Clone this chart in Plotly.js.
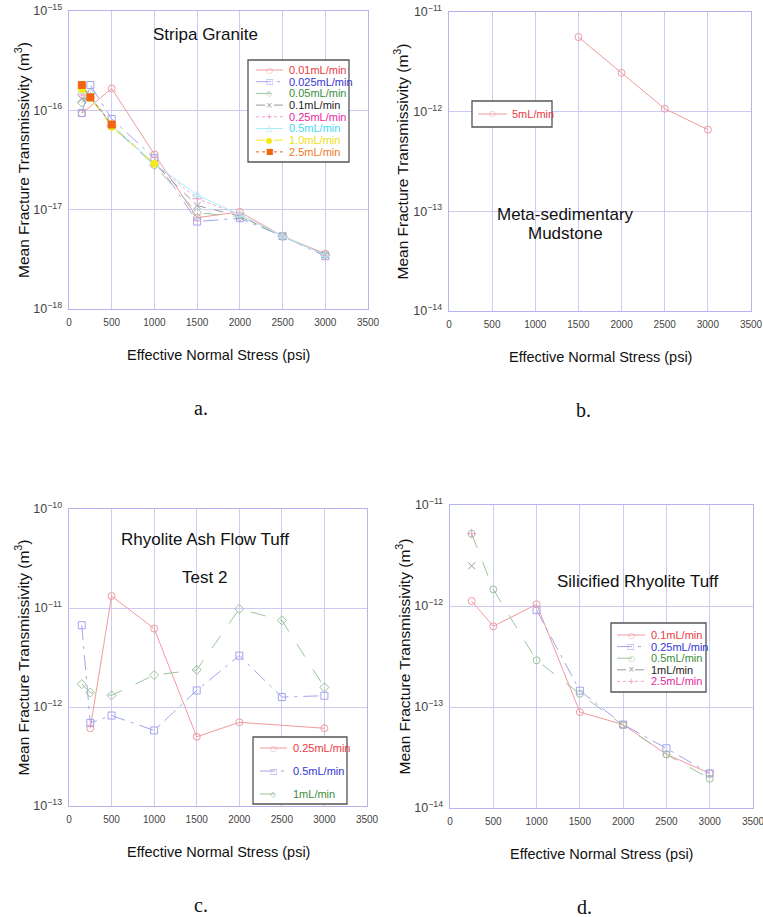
<!DOCTYPE html>
<html>
<head>
<meta charset="utf-8">
<script src="https://cdn.plot.ly/plotly-3.0.1.min.js"></script>
<style>
  html, body { margin: 0; padding: 0; background: #fff; }
  #chart { width: 763px; height: 917px; }
</style>
</head>
<body>
<div id="chart"></div>
<script>
// ---- Data: mean fracture transmissivity (m^3) vs effective normal stress (psi) ----

// a. Stripa Granite
const stressGranite = [150, 250, 500, 1000, 1500, 2000, 2500, 3000];
const granite001  = [9.3e-17, null,    1.66e-16, 3.6e-17, 8.3e-18,  9.5e-18, 5.4e-18, 3.6e-18];
const granite0025 = [9.4e-17, 1.8e-16, 8.2e-17,  3.3e-17, 7.6e-18,  8.2e-18, 5.4e-18, 3.4e-18];
const granite005  = [1.2e-16, 1.48e-16, 6.9e-17, 2.8e-17, 9.3e-18,  8.5e-18, 5.4e-18, 3.5e-18];
const granite01   = [1.3e-16, 1.38e-16, 7.0e-17, 2.9e-17, 1.1e-17,  8.6e-18, 5.4e-18, 3.5e-18];
const granite025  = [1.43e-16, 1.36e-16, 7.1e-17, 2.9e-17, 1.29e-17, 8.9e-18, 5.4e-18, 3.5e-18];
const granite05   = [1.55e-16, 1.4e-16, 7.1e-17, 2.9e-17, 1.4e-17,  8.9e-18, 5.4e-18, 3.5e-18];
const granite10   = [1.63e-16, 1.33e-16, 6.8e-17, 2.9e-17, null, null, null, null];
const granite25   = [1.8e-16, 1.35e-16, 7.2e-17, null, null, null, null, null];
const graniteNames = ['0.01mL/min', '0.025mL/min', '0.05mL/min', '0.1mL/min',
                      '0.25mL/min', '0.5mL/min', '1.0mL/min', '2.5mL/min'];

// b. Meta-sedimentary Mudstone
const stressMudstone = [1500, 2000, 2500, 3000];
const mudstone5 = [5.6e-12, 2.45e-12, 1.07e-12, 6.6e-13];
const mudstoneNames = ['5mL/min'];

// c. Rhyolite Ash Flow Tuff, Test 2
const stressAshTuff = [150, 250, 500, 1000, 1500, 2000, 2500, 3000];
const ashTuff025 = [null,    6.1e-13, 1.32e-11, 6.2e-12, 5.0e-13,  7.0e-13, null,    6.1e-13];
const ashTuff05  = [6.7e-12, 6.9e-13, 8.2e-13,  5.8e-13, 1.47e-12, 3.3e-12, 1.26e-12, 1.3e-12];
const ashTuff1   = [1.7e-12, 1.4e-12, 1.31e-12, 2.1e-12, 2.37e-12, 9.8e-12, 7.5e-12, 1.58e-12];
const ashTuffNames = ['0.25mL/min', '0.5mL/min', '1mL/min'];

// d. Silicified Rhyolite Tuff
const stressSilTuff = [250, 500, 1000, 1500, 2000, 2500, 3000];
const silTuff01  = [1.12e-12, 6.3e-13, 1.04e-12, 8.9e-14,  6.7e-14, 3.4e-14, 2.2e-14];
const silTuff025 = [null,     null,    9.1e-13,  1.45e-13, 6.7e-14, 3.9e-14, 2.2e-14];
const silTuff05  = [5.2e-12,  1.46e-12, 2.9e-13, 1.35e-13, 6.6e-14, 3.4e-14, 1.95e-14];
const silTuff1   = [2.5e-12,  null, null, null, null, null, null];
const silTuff25  = [5.2e-12,  null, null, null, null, null, null];
const silTuffNames = ['0.1mL/min', '0.25mL/min', '0.5mL/min', '1mL/min', '2.5mL/min'];

const stressTicks = [0, 500, 1000, 1500, 2000, 2500, 3000, 3500];

// ---- Styles ----
const W = 763, H = 917;
const FONT = 'Liberation Sans, Arial, sans-serif';
const SERIF = 'Liberation Serif, Times New Roman, serif';
const px = v => v / W;
const py = v => 1 - v / H;

// mark colour (thin lines/markers), legend text colour, symbol, glyph, dash
const STY = {
  red:     { mark: '#f29a9e', text: '#ea3a44', sym: 'circle-open',   glyph: '○', dash: 'solid' },
  blue:    { mark: '#a4a4ee', text: '#3434d6', sym: 'square-open',   glyph: '□', dash: 'longdashdot' },
  green:   { mark: '#9cc49c', text: '#3c8c3c', sym: 'diamond-open',  glyph: '◇', dash: 'longdash' },
  greenC:  { mark: '#9cc49c', text: '#3c8c3c', sym: 'circle-open',   glyph: '○', dash: 'longdash' },
  black:   { mark: '#9a9a9a', text: '#222222', sym: 'x-thin-open',   glyph: '×', dash: 'dash' },
  magenta: { mark: '#f2a2cc', text: '#e8289a', sym: 'cross-thin-open', glyph: '+', dash: 'dot' },
  cyan:    { mark: '#a8eef8', text: '#46d8f2', sym: 'triangle-up-open', glyph: '△', dash: 'solid' },
  yellow:  { mark: '#f4ea1a', text: '#eee010', sym: 'circle',        glyph: '●', dash: 'dash' },
  orange:  { mark: '#f06414', text: '#f07828', sym: 'square',        glyph: '■', dash: 'dot' }
};

// ---- Panels ----
const panels = [
  {
    xa: 'x', ya: 'y', xd: [69, 368], yd: [11, 309], yr: [-18, -15],
    x: stressGranite,
    series: [granite001, granite0025, granite005, granite01, granite025, granite05, granite10, granite25],
    names: graniteNames,
    sty: ['red', 'blue', 'green', 'black', 'magenta', 'cyan', 'yellow', 'orange'],
    legend: { box: [248, 60, 349, 162], row0: 70, step: 11.7, l0: 256, l1: 283, tx: 287 },
    titles: [{ t: 'Stripa Granite', x: 205, y: 35 }],
    letter: 'a.'
  },
  {
    xa: 'x2', ya: 'y2', xd: [449, 751], yd: [12, 311], yr: [-14, -11],
    x: stressMudstone,
    series: [mudstone5],
    names: mudstoneNames,
    sty: ['red'],
    legend: { box: [472, 101, 552, 127], row0: 114, step: 0, l0: 478, l1: 507, tx: 510 },
    titles: [{ t: 'Meta-sedimentary', x: 565, y: 215 }, { t: 'Mudstone', x: 565, y: 233 }],
    letter: 'b.'
  },
  {
    xa: 'x3', ya: 'y3', xd: [69, 367], yd: [509, 806], yr: [-13, -10],
    x: stressAshTuff,
    series: [ashTuff025, ashTuff05, ashTuff1],
    names: ashTuffNames,
    sty: ['red', 'blue', 'green'],
    legend: { box: [253, 737, 347, 804], row0: 748, step: 23, l0: 260, l1: 287, tx: 291 },
    titles: [{ t: 'Rhyolite Ash Flow Tuff', x: 205, y: 539 }, { t: 'Test 2', x: 204, y: 577 }],
    letter: 'c.'
  },
  {
    xa: 'x4', ya: 'y4', xd: [450, 753], yd: [505, 808], yr: [-14, -11],
    x: stressSilTuff,
    series: [silTuff01, silTuff025, silTuff05, silTuff1, silTuff25],
    names: silTuffNames,
    sty: ['red', 'blue', 'greenC', 'black', 'magenta'],
    legend: { box: [611, 623, 706, 692], row0: 635, step: 11.6, l0: 617, l1: 645, tx: 649 },
    titles: [{ t: 'Silicified Rhyolite Tuff', x: 638, y: 581 }],
    letter: 'd.'
  }
];

const traces = [];
const shapes = [];
const annotations = [];
const layout = {
  width: W, height: H,
  margin: { l: 0, r: 0, t: 0, b: 0 },
  paper_bgcolor: '#ffffff', plot_bgcolor: '#ffffff',
  showlegend: false,
  font: { family: FONT, color: '#222' }
};

const gridCol = '#cbcbf4';
const frameCol = '#b4b4ee';
const tickFont = { family: FONT, size: 10, color: '#444' };

panels.forEach((p, i) => {
  const n = i === 0 ? '' : String(i + 1);
  layout['xaxis' + n] = {
    domain: [px(p.xd[0]), px(p.xd[1])],
    anchor: p.ya, range: [0, 3500],
    tickvals: stressTicks, ticktext: stressTicks.map(String),
    showgrid: true, gridcolor: gridCol, gridwidth: 1,
    showline: true, mirror: true, linecolor: frameCol, linewidth: 1,
    zeroline: false, ticks: '', tickfont: tickFont, ticklabelstandoff: 4,
    ticklabeloverflow: 'allow', fixedrange: true
  };
  layout['yaxis' + n] = {
    domain: [py(p.yd[1]), py(p.yd[0])],
    anchor: p.xa, type: 'log', range: p.yr, dtick: 1,
    exponentformat: 'power',
    showgrid: true, gridcolor: gridCol, gridwidth: 1,
    showline: true, mirror: true, linecolor: frameCol, linewidth: 1,
    zeroline: false, ticks: '', tickfont: tickFont, ticklabelstandoff: 4,
    ticklabeloverflow: 'allow', fixedrange: true
  };

  p.series.forEach((ys, k) => {
    const s = STY[p.sty[k]];
    traces.push({
      type: 'scatter', mode: 'lines+markers',
      xaxis: p.xa, yaxis: p.ya,
      x: p.x, y: ys, name: p.names[k], connectgaps: true,
      line: { color: s.mark, width: 1, dash: s.dash },
      marker: {
        symbol: s.sym, size: 7, color: s.mark,
        line: { color: s.mark, width: 1 }
      },
      hoverinfo: 'x+y+name'
    });
  });

  // legend box
  const L = p.legend;
  shapes.push({
    type: 'rect', xref: 'paper', yref: 'paper',
    x0: px(L.box[0]), x1: px(L.box[2]), y0: py(L.box[3]), y1: py(L.box[1]),
    line: { color: '#555', width: 1.3 }, fillcolor: '#ffffff', layer: 'above'
  });
  p.names.forEach((nm, k) => {
    const s = STY[p.sty[k]];
    const yy = L.row0 + k * L.step;
    shapes.push({
      type: 'line', xref: 'paper', yref: 'paper',
      x0: px(L.l0), x1: px(L.l1), y0: py(yy), y1: py(yy),
      line: { color: s.mark, width: 1, dash: s.dash }, layer: 'above'
    });
    annotations.push({
      xref: 'paper', yref: 'paper', x: px((L.l0 + L.l1) / 2), y: py(yy),
      text: s.glyph, showarrow: false, xanchor: 'center', yanchor: 'middle',
      font: { family: 'DejaVu Sans', size: 8, color: s.mark }
    });
    annotations.push({
      xref: 'paper', yref: 'paper', x: px(L.tx), y: py(yy),
      text: nm, showarrow: false, xanchor: 'left', yanchor: 'middle',
      font: { family: FONT, size: 11, color: s.text }
    });
  });

  // panel titles inside the plot
  p.titles.forEach(t => {
    annotations.push({
      xref: 'paper', yref: 'paper', x: px(t.x), y: py(t.y),
      text: t.t, showarrow: false, xanchor: 'center', yanchor: 'middle',
      font: { family: FONT, size: 17, color: '#111' }
    });
  });

  // axis titles
  const cx = (p.xd[0] + p.xd[1]) / 2;
  const cy = (p.yd[0] + p.yd[1]) / 2;
  annotations.push({
    xref: 'paper', yref: 'paper', x: px(cx), y: py(p.yd[1] + 46),
    text: 'Effective Normal Stress (psi)', showarrow: false,
    xanchor: 'center', yanchor: 'middle',
    font: { family: FONT, size: 14.5, color: '#111' }
  });
  annotations.push({
    xref: 'paper', yref: 'paper', x: px(p.xd[0] - 47), y: py(cy),
    text: 'Mean Fracture Transmissivity (m<sup>3</sup>)', showarrow: false,
    textangle: -90, xanchor: 'center', yanchor: 'middle',
    font: { family: FONT, size: 15.5, color: '#111' }
  });
  // panel letter
  annotations.push({
    xref: 'paper', yref: 'paper', x: px(cx - 17), y: py(p.yd[1] + 99),
    text: p.letter, showarrow: false, xanchor: 'center', yanchor: 'middle',
    font: { family: SERIF, size: 20, color: '#111' }
  });
});

layout.shapes = shapes;
layout.annotations = annotations;

Plotly.newPlot('chart', traces, layout, { displayModeBar: false, staticPlot: true });
</script>
</body>
</html>
